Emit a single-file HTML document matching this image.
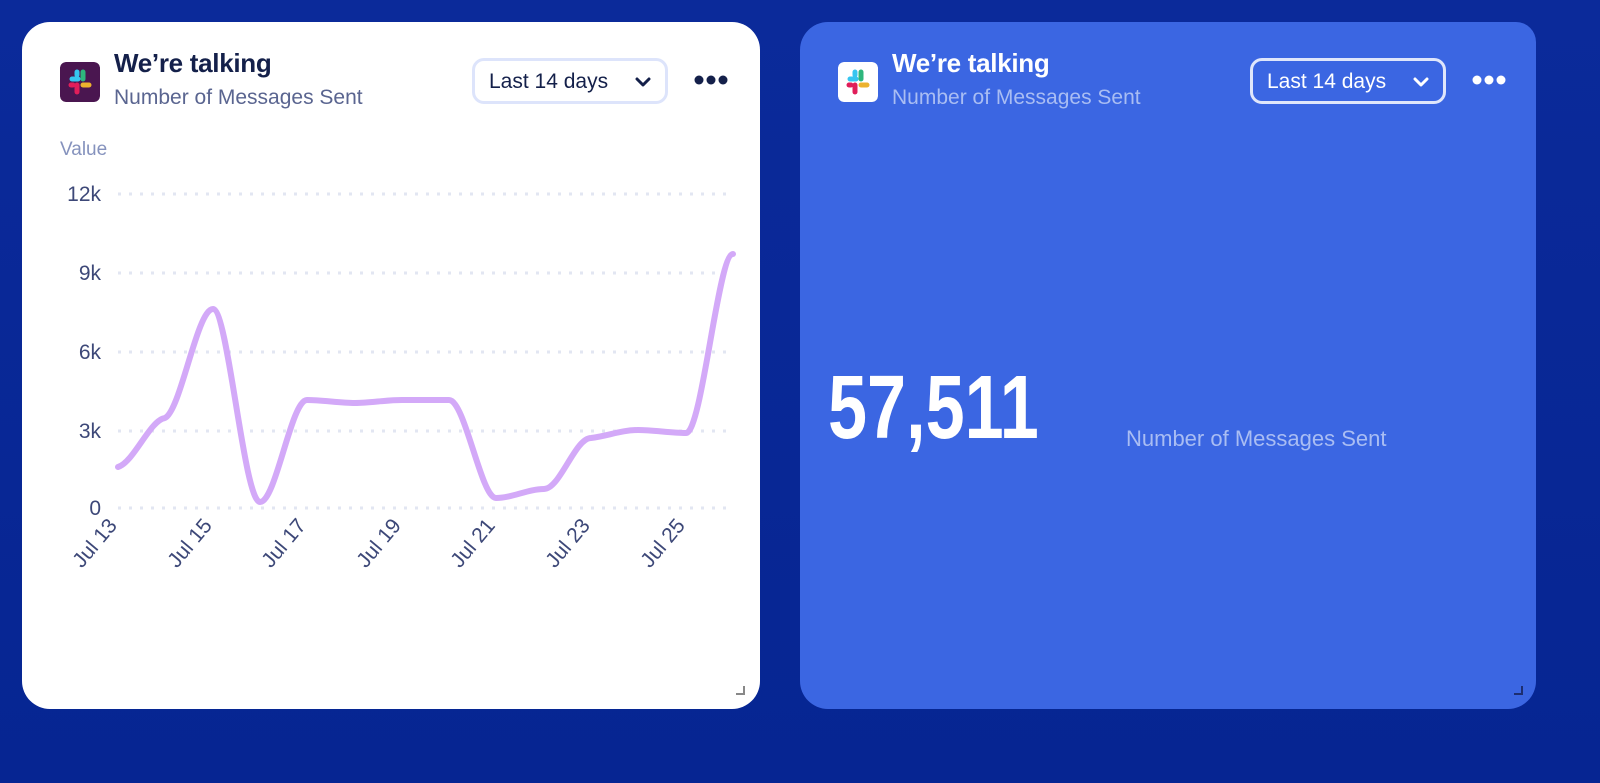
<!DOCTYPE html>
<html><head><meta charset="utf-8"><style>
*{margin:0;padding:0;box-sizing:border-box}
body{width:1600px;height:783px;overflow:hidden;background:linear-gradient(180deg,#0b2a9a 0%,#062592 100%);font-family:"Liberation Sans",sans-serif;position:relative}
.card{position:absolute;top:22px;height:687px;border-radius:28px}
.l{left:22px;width:738px;background:#fff}
.r{left:800px;width:736px;background:#3b66e2;border-radius:28px 20px 28px 28px}
.ic{position:absolute;left:38px;top:40px;width:40px;height:40px;border-radius:6px}
.t{position:absolute;left:92px;top:26px;font-size:26px;font-weight:bold;letter-spacing:-0.3px}
.s{position:absolute;left:92px;top:64px;font-size:21px}
.btn{position:absolute;left:450px;top:36px;width:196px;height:46px;border:3px solid #dde4fb;border-radius:12px;font-size:21px;padding:9px 0 0 14px}
.btn svg{position:absolute;left:160px;top:16px}
.dots{position:absolute;left:672px;top:52px}
</style></head><body>
<div class="card l">
  <svg class="ic" viewBox="0 0 40 40"><rect width="40" height="40" rx="6" fill="#4a1650"/>
  <g stroke-linecap="round" stroke-width="5"><line x1="12" y1="17" x2="18" y2="17" stroke="#36c5f0"/><line x1="17" y1="10" x2="17" y2="13" stroke="#36c5f0"/><line x1="23" y1="10" x2="23" y2="17" stroke="#2eb67d"/><line x1="23" y1="23" x2="29" y2="23" stroke="#ecb22e"/><line x1="17" y1="23" x2="17" y2="30" stroke="#e01e5a"/><line x1="11" y1="23" x2="13" y2="23" stroke="#e01e5a"/></g></svg>
  <div class="t" style="color:#14204a">We’re talking</div>
  <div class="s" style="color:#5a6590">Number of Messages Sent</div>
  <div class="btn" style="color:#14204a">Last 14 days <svg width="16" height="10"><path d="M2,2 L8,8 L14,2" fill="none" stroke="#14204a" stroke-width="3" stroke-linecap="round" stroke-linejoin="round"/></svg></div>
  <svg class="dots" width="36" height="12"><circle cx="5" cy="6" r="4.5" fill="#14204a"/><circle cx="17" cy="6" r="4.5" fill="#14204a"/><circle cx="29" cy="6" r="4.5" fill="#14204a"/></svg>
</div>
<div class="card r">
  <svg class="ic" viewBox="0 0 40 40"><rect width="40" height="40" rx="6" fill="#fff"/>
  <g stroke-linecap="round" stroke-width="5"><line x1="12" y1="17" x2="18" y2="17" stroke="#36c5f0"/><line x1="17" y1="10" x2="17" y2="13" stroke="#36c5f0"/><line x1="23" y1="10" x2="23" y2="17" stroke="#2eb67d"/><line x1="23" y1="23" x2="29" y2="23" stroke="#ecb22e"/><line x1="17" y1="23" x2="17" y2="30" stroke="#e01e5a"/><line x1="11" y1="23" x2="13" y2="23" stroke="#e01e5a"/></g></svg>
  <div class="t" style="color:#fff">We’re talking</div>
  <div class="s" style="color:#a9bdf3">Number of Messages Sent</div>
  <div class="btn" style="color:#fff;border-color:#dfe6fb">Last 14 days <svg width="16" height="10"><path d="M2,2 L8,8 L14,2" fill="none" stroke="#fff" stroke-width="3" stroke-linecap="round" stroke-linejoin="round"/></svg></div>
  <svg class="dots" width="36" height="12"><circle cx="5" cy="6" r="4.5" fill="#fff"/><circle cx="17" cy="6" r="4.5" fill="#fff"/><circle cx="29" cy="6" r="4.5" fill="#fff"/></svg>
  <div style="position:absolute;left:28px;top:335px;font-size:90px;font-weight:bold;color:#fff;transform:scaleX(0.78);transform-origin:left top">57,511</div>
  <div style="position:absolute;left:326px;top:404px;font-size:22px;color:#a9bdf3">Number of Messages Sent</div>
</div>
<svg style="position:absolute;left:0;top:0" width="1600" height="783">
  <text x="60" y="155" font-size="19" fill="#8592bd" font-family="Liberation Sans">Value</text>
  <g font-size="21" fill="#3d4878" font-family="Liberation Sans" text-anchor="end">
    <text x="101" y="201">12k</text><text x="101" y="280">9k</text><text x="101" y="359">6k</text><text x="101" y="438">3k</text><text x="101" y="515">0</text>
  </g>
  <g stroke="#e2e6f2" stroke-width="3" stroke-dasharray="3 8">
    <line x1="118" y1="194" x2="730" y2="194"/><line x1="118" y1="273" x2="730" y2="273"/><line x1="118" y1="352" x2="730" y2="352"/><line x1="118" y1="431" x2="730" y2="431"/><line x1="118" y1="508" x2="730" y2="508"/>
  </g>
  <path fill="none" stroke="#d3a9f8" stroke-width="6" stroke-linecap="round" stroke-linejoin="round"
  d="M118,467 C134,462 150,420 165,418 C181,410 197,309 213,309 C228,309 244,502 260,502 C276,502 291,400 307,400 C323,400 339,403 355,403 C370,403 386,400 402,400 C418,400 433,400 449,400 C465,400 481,498 496,498 C512,498 528,489 544,489 C560,489 575,438 591,438 C607,436 622,430 638,430 C654,430 670,433 686,433 C702,433 718,254 733,254"/>
  <g font-size="21" fill="#3d4878" font-family="Liberation Sans" text-anchor="end">
    <text transform="translate(118,526) rotate(-50)">Jul 13</text>
    <text transform="translate(213,526) rotate(-50)">Jul 15</text>
    <text transform="translate(307,526) rotate(-50)">Jul 17</text>
    <text transform="translate(402,526) rotate(-50)">Jul 19</text>
    <text transform="translate(496,526) rotate(-50)">Jul 21</text>
    <text transform="translate(591,526) rotate(-50)">Jul 23</text>
    <text transform="translate(686,526) rotate(-50)">Jul 25</text>
  </g>
  <path d="M736,694 h8 v-8" fill="none" stroke="#888" stroke-width="2"/>
  <path d="M1514,694 h8 v-8" fill="none" stroke="#1d2e70" stroke-width="2"/>
</svg>
</body></html>
